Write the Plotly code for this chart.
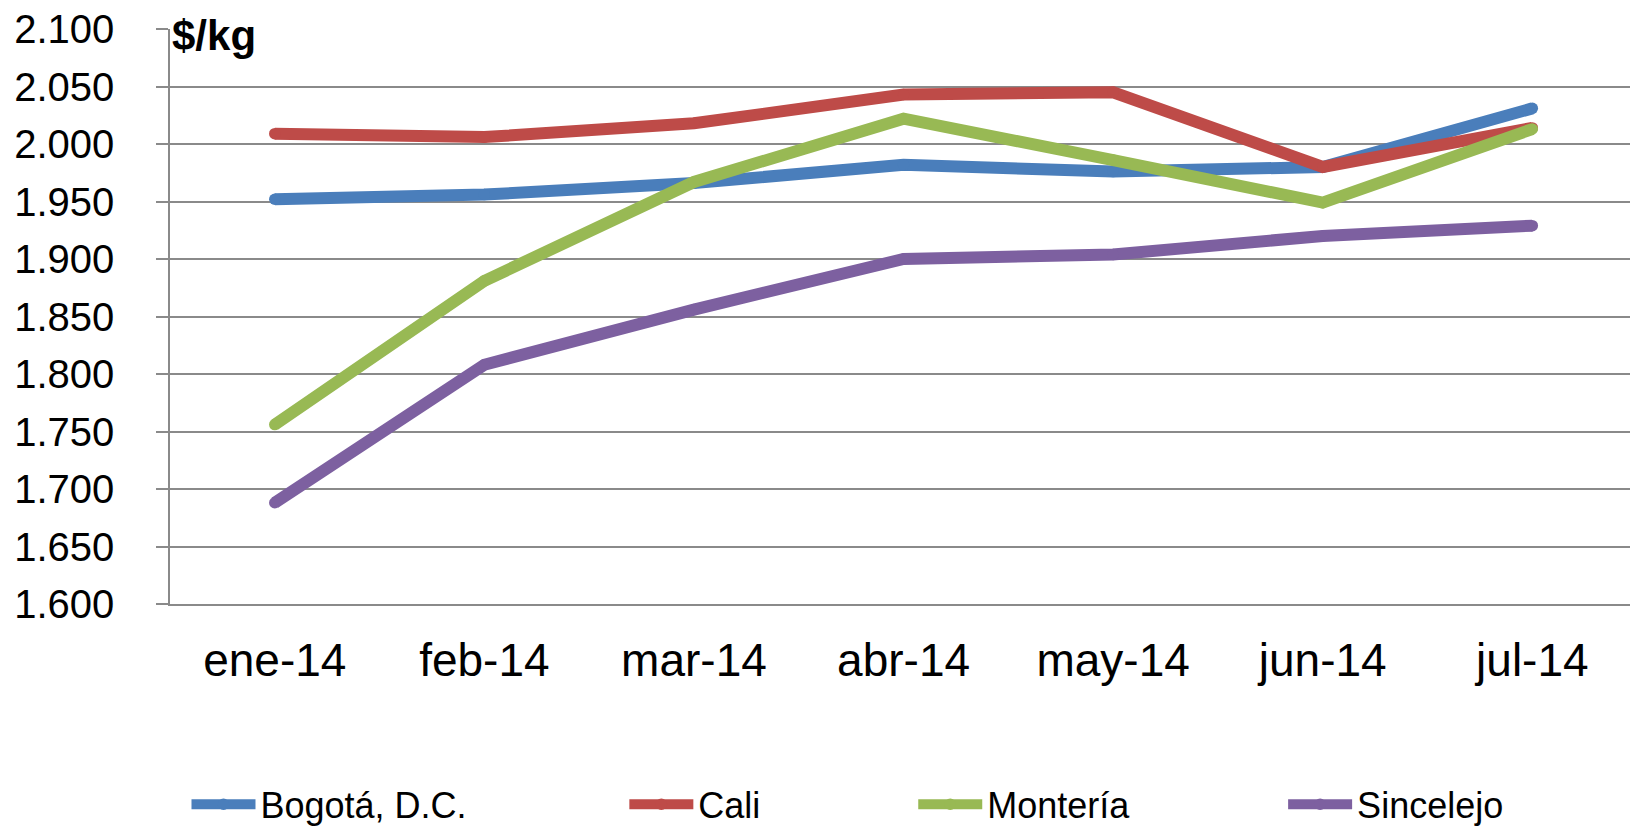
import plotly.graph_objects as go

months = ["ene-14", "feb-14", "mar-14", "abr-14", "may-14", "jun-14", "jul-14"]
bogota = [1952, 1956, 1966, 1982, 1976, 1980, 2031]
cali = [2009, 2006, 2018, 2043, 2045, 1980, 2014]
monteria = [1756, 1881, 1967, 2022, 1986, 1949, 2013]
sincelejo = [1688, 1808, 1856, 1900, 1904, 1920, 1929]
series_names = ["Bogotá, D.C.", "Cali", "Montería", "Sincelejo"]
y_tickvals = [1600, 1650, 1700, 1750, 1800, 1850, 1900, 1950, 2000, 2050, 2100]
y_ticktext = ["1.600", "1.650", "1.700", "1.750", "1.800", "1.850", "1.900",
              "1.950", "2.000", "2.050", "2.100"]

colors = ["#4A7EBB", "#BE4B48", "#98B954", "#7D60A0"]
FONT = "Liberation Sans, Arial, sans-serif"
W, H = 1630, 826
ML, MT, MB = 169.5, 29, 221.5
plot_w = W - ML
plot_h = H - MT - MB

fig = go.Figure()
legend_ids = ["legend", "legend2", "legend3", "legend4"]
for name, vals, col, lg in zip(series_names, [bogota, cali, monteria, sincelejo], colors, legend_ids):
    fig.add_trace(go.Scatter(
        x=list(range(len(months))), y=vals, name=name, mode="lines+markers",
        line=dict(color=col, width=12),
        marker=dict(color=col, size=11.5, line=dict(width=0)),
        legend=lg, showlegend=True, hoverinfo="x+y+name",
    ))

grid = "#8a8a8a"
fig.update_layout(
    width=W, height=H, showlegend=True,
    margin=dict(l=ML, r=0, t=MT, b=MB, pad=0, autoexpand=False),
    paper_bgcolor="white", plot_bgcolor="white",
    font=dict(family=FONT, color="black"),
    xaxis=dict(
        range=[-0.5, 6.466], tickvals=list(range(len(months))), ticktext=months,
        showgrid=False, zeroline=False, showline=True, linecolor=grid, linewidth=1.5,
        ticks="", tickfont=dict(size=46, family=FONT, color="black"),
        ticklabelstandoff=15, fixedrange=True, automargin=False,
    ),
    yaxis=dict(
        range=[1600, 2100], tickvals=y_tickvals, ticktext=y_ticktext,
        showgrid=True, gridcolor=grid, gridwidth=1.5, zeroline=False,
        showline=True, linecolor=grid, linewidth=1.5,
        ticks="outside", ticklen=12, tickcolor=grid, tickwidth=1.5,
        tickfont=dict(size=40, family=FONT, color="black"),
        ticklabelstandoff=34, fixedrange=True, automargin=False,
    ),
    annotations=[dict(
        text="<b>$/kg</b>", xref="paper", yref="paper",
        x=(170 - ML) / plot_w, y=1.0, xanchor="left", yanchor="middle",
        yshift=-6, showarrow=False, font=dict(size=42, family=FONT, color="black"),
    )],
)

leg_px = [186, 624, 913, 1283]
leg_y = (MT + plot_h - 805) / plot_h
for lg, px in zip(legend_ids, leg_px):
    fig.update_layout({lg: dict(
        x=(px - ML) / plot_w, y=leg_y, xanchor="left", yanchor="middle",
        orientation="h", itemwidth=64, bgcolor="rgba(0,0,0,0)", borderwidth=0,
        font=dict(size=36, family=FONT, color="black"),
        itemclick=False, itemdoubleclick=False, visible=True,
    )})

fig.write_html(
    "out.html",
    config={"displayModeBar": False},
    post_script="document.body.style.margin='0';document.body.style.overflow='hidden';",
)
